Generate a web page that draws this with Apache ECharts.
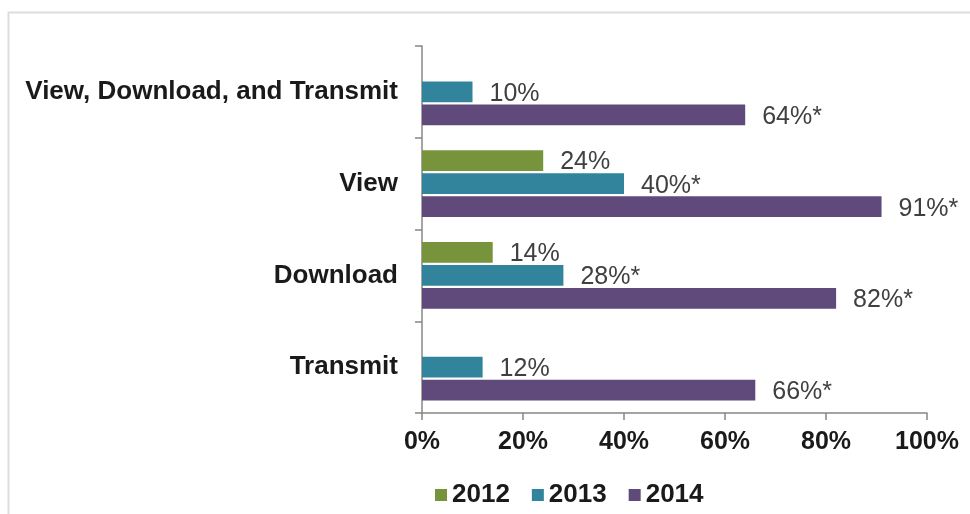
<!DOCTYPE html>
<html>
<head>
<meta charset="utf-8">
<script src="https://cdn.jsdelivr.net/npm/echarts@6/dist/echarts.min.js"></script>
<style>
  html, body { margin: 0; padding: 0; background: #ffffff; }
  #chart { width: 970px; height: 514px; }
</style>
</head>
<body>
<div id="chart"></div>
<script>
// Categories, listed top to bottom
const categories = ['View, Download, and Transmit', 'View', 'Download', 'Transmit'];

// Share of hospitals per capability and year (percent); null = not measured
const years = ['2012', '2013', '2014'];
const values2012 = [null, 24, 14, null];
const values2013 = [10, 40, 28, 12];
const values2014 = [64, 91, 82, 66];

// Asterisk marks a statistically significant change
const signif2012 = [false, false, false, false];
const signif2013 = [false, true, true, false];
const signif2014 = [true, true, true, true];

const xTicks = [0, 20, 40, 60, 80, 100];

const colors = ['#77933c', '#31849b', '#604a7b'];
const FONT = '"Liberation Sans", Arial, sans-serif';

function makeSeries(name, values, flags, color) {
  return {
    name: name,
    type: 'bar',
    data: values,
    itemStyle: { color: color },
    barCategoryGap: '27%',
    barGap: '10%',
    label: {
      show: true,
      position: 'right',
      distance: 17,
      offset: [0, 2],
      fontFamily: FONT,
      fontSize: 25,
      color: '#404040',
      formatter: function (p) {
        return p.value + '%' + (flags[p.dataIndex] ? '*' : '');
      }
    }
  };
}

const chart = echarts.init(document.getElementById('chart'), null, { renderer: 'canvas' });

chart.setOption({
  animation: false,
  backgroundColor: '#ffffff',
  textStyle: { fontFamily: FONT },
  graphic: [
    {
      type: 'polyline',
      shape: { points: [[8.5, 514], [8.5, 12.5], [970, 12.5]] },
      style: { stroke: '#dddddd', lineWidth: 2, fill: null },
      silent: true
    }
  ],
  grid: { left: 422, right: 43, top: 46, bottom: 101, containLabel: false },
  legend: {
    data: years,
    left: 430,
    top: 477,
    icon: 'rect',
    itemWidth: 12,
    itemHeight: 12,
    itemGap: 22,
    textStyle: { fontFamily: FONT, fontSize: 26, fontWeight: 'bold', color: '#1a1a1a', padding: [0, 0, 0, 0] }
  },
  xAxis: {
    type: 'value',
    min: xTicks[0],
    max: xTicks[xTicks.length - 1],
    interval: 20,
    splitLine: { show: false },
    axisLine: { show: true, lineStyle: { color: '#878787', width: 1.5 } },
    axisTick: { show: true, length: 7, lineStyle: { color: '#878787', width: 1.5 } },
    axisLabel: {
      margin: 17,
      fontFamily: FONT,
      fontSize: 25,
      fontWeight: 'bold',
      color: '#1a1a1a',
      formatter: function (v) { return v + '%'; }
    }
  },
  yAxis: {
    type: 'category',
    data: categories,
    inverse: true,
    axisLine: { show: true, lineStyle: { color: '#878787', width: 1.5 } },
    axisTick: { show: true, length: 7, alignWithLabel: false, lineStyle: { color: '#878787', width: 1.5 } },
    axisLabel: {
      margin: 24,
      fontFamily: FONT,
      fontSize: 26,
      fontWeight: 'bold',
      color: '#1a1a1a'
    }
  },
  series: [
    makeSeries(years[0], values2012, signif2012, colors[0]),
    makeSeries(years[1], values2013, signif2013, colors[1]),
    makeSeries(years[2], values2014, signif2014, colors[2])
  ]
});
</script>
</body>
</html>
